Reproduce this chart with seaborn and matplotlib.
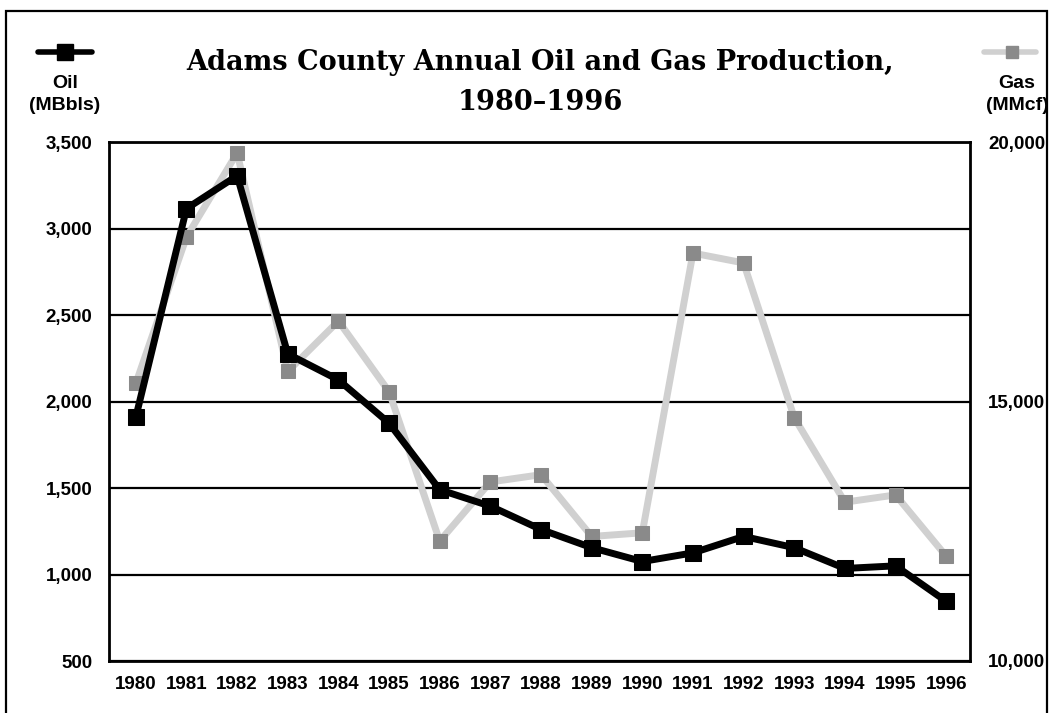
import matplotlib
matplotlib.use("Agg")
import matplotlib.pyplot as plt
from matplotlib.lines import Line2D
from matplotlib.patches import Rectangle
from matplotlib.ticker import FuncFormatter
import pandas as pd
import seaborn as sns

# data
years = list(range(1980, 1997))
oil_mbbls = [1910, 3115, 3305, 2275, 2125, 1875, 1490, 1395, 1260, 1155,
             1075, 1125, 1220, 1155, 1035, 1050, 845]
gas_mmcf = [15350, 18170, 19790, 15580, 16550, 15190, 12310, 13450, 13590,
            12400, 12470, 17860, 17670, 14690, 13060, 13200, 12020]
oil_ticks = [500, 1000, 1500, 2000, 2500, 3000, 3500]
gas_ticks = [10000, 15000, 20000]
title_lines = ["Adams County Annual Oil and Gas Production,", "1980\u20131996"]

df = pd.DataFrame({"year": years, "oil": oil_mbbls, "gas": gas_mmcf})

sns.set_style("white")
plt.rcParams["font.family"] = ["Liberation Sans", "DejaVu Sans"]
plt.rcParams.update({"text.color": "black", "xtick.color": "black",
                     "ytick.color": "black", "axes.labelcolor": "black"})

W, H = 1052, 713
fig = plt.figure(figsize=(W / 100, H / 100), dpi=100)
fig.patch.set_facecolor("white")

rect = [109 / W, 1 - 661 / H, 861 / W, 519 / H]
ax = fig.add_axes(rect)          # grid + oil scale
ax2 = ax.twinx()                 # gas
ax3 = ax.twinx()                 # oil line drawn on top

TICK_FS = 13.5
thousands = FuncFormatter(lambda v, p: f"{int(v):,}")

ax.set_xlim(1979.47, 1996.47)
ax.set_ylim(500, 3500)
ax.set_yticks(oil_ticks)
ax.yaxis.set_major_formatter(thousands)
ax.set_xticks(years)
ax.set_xticklabels([str(y) for y in years], fontsize=TICK_FS, fontweight="bold")
for lab in ax.get_yticklabels():
    lab.set_fontsize(TICK_FS)
    lab.set_fontweight("bold")
ax.tick_params(axis="x", direction="in", length=13, width=1.3, color="black",
               labelcolor="black", pad=11)
ax.tick_params(axis="y", length=0, pad=12, labelcolor="black")
ax.grid(axis="y", color="black", lw=1.6)
ax.grid(axis="x", visible=False)
for s in ax.spines.values():
    s.set_color("black")
    s.set_linewidth(2)

# gas
sns.lineplot(data=df, x="year", y="gas", ax=ax2, color="#d0d0d0", lw=5,
             marker="s", markersize=10, markerfacecolor="#8a8a8a",
             markeredgecolor="#8a8a8a", zorder=3)
ax2.set_ylim(10000, 20000)
ax2.set_yticks(gas_ticks)
ax2.yaxis.set_major_formatter(thousands)
for lab in ax2.get_yticklabels():
    lab.set_fontsize(TICK_FS)
    lab.set_fontweight("bold")
ax2.tick_params(axis="y", length=0, pad=13, labelcolor="black")
ax2.set_ylabel("")
for s in ax2.spines.values():
    s.set_visible(False)

# oil
sns.lineplot(data=df, x="year", y="oil", ax=ax3, color="black", lw=5,
             marker="s", markersize=12, markerfacecolor="black",
             markeredgecolor="black", zorder=4)
ax3.set_ylim(500, 3500)
ax3.set_yticks([])
ax3.set_ylabel("")
for s in ax3.spines.values():
    s.set_visible(False)

ax.set_xlabel("")
ax.set_ylabel("")
ax3.set_xlim(ax.get_xlim())

# title
serif = ["DejaVu Serif", "Liberation Serif"]
fig.text(540 / W, 1 - 70 / H, title_lines[0], ha="center", va="baseline",
         family=serif, fontweight="bold", fontsize=19.5, color="black")
fig.text(540 / W, 1 - 110 / H, title_lines[1], ha="center", va="baseline",
         family=serif, fontweight="bold", fontsize=19.5, color="black")

# legend keys
fig.add_artist(Line2D([38 / W, 92 / W], [1 - 52 / H] * 2, color="black", lw=4))
fig.add_artist(Line2D([65 / W], [1 - 52 / H], color="black", marker="s",
                      markersize=11, lw=0))
fig.text(65 / W, 1 - 84 / H, "Oil", ha="center", va="center", fontsize=14, fontweight="bold")
fig.text(65 / W, 1 - 105 / H, "(MBbls)", ha="center", va="center", fontsize=14, fontweight="bold")

fig.add_artist(Line2D([984 / W, 1036 / W], [1 - 52 / H] * 2, color="#d0d0d0", lw=4))
fig.add_artist(Line2D([1012 / W], [1 - 52 / H], color="#8a8a8a", marker="s",
                      markersize=9, lw=0))
fig.text(1017 / W, 1 - 84 / H, "Gas", ha="center", va="center", fontsize=14, fontweight="bold")
fig.text(1017 / W, 1 - 105 / H, "(MMcf)", ha="center", va="center", fontsize=14, fontweight="bold")

# outer frame
fig.add_artist(Rectangle((6 / W, -0.05), (1047 - 6) / W, 1.05 - 11 / H,
                         transform=fig.transFigure, fill=False, ec="black", lw=1.6))

fig.savefig("out.png", dpi=100)
